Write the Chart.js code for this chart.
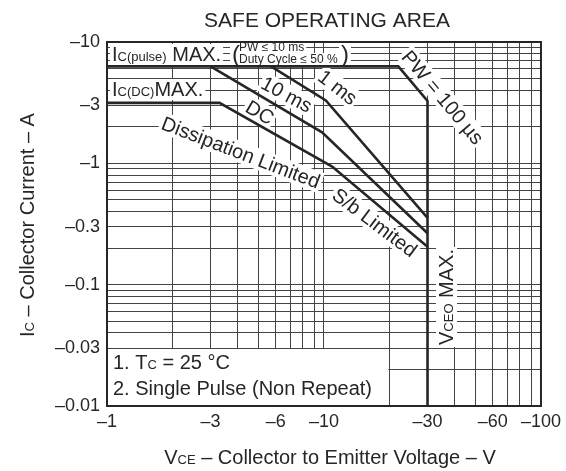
<!DOCTYPE html>
<html>
<head>
<meta charset="utf-8">
<script src="https://cdn.jsdelivr.net/npm/chart.js@4.4.1/dist/chart.umd.min.js"></script>
<style>
html,body{margin:0;padding:0;background:#fff;}
#wrap{width:566px;height:471px;}
</style>
</head>
<body>
<div id="wrap"><canvas id="c" width="566" height="471"></canvas></div>
<script>
// ---- data (VCE and IC magnitudes; the axes show them as negative values) ----
const xGridValues = [1,2,3,4,5,6,7,8,9,10,20,30,40,50,60,70,80,90,100];
const xLabelValues = [1,3,6,10,30,60,100];
const xLabelTexts = ['–1','–3','–6','–10','–30','–60','–100'];
const yGridValues = [0.01,0.02,0.03,0.04,0.05,0.06,0.07,0.08,0.09,0.1,0.2,0.3,0.4,0.5,0.6,0.7,0.8,0.9,1,2,3,4,5,6,7,8,9,10];
const yLabelValues = [0.01,0.03,0.1,0.3,1,3,10];
const yLabelTexts = ['–0.01','–0.03','–0.1','–0.3','–1','–3','–10'];

const pw100usV = [1, 22, 30, 30];
const pw100usI = [6.3, 6.3, 3.27, 0.01];
const pw1msV = [5.7, 10.2, 30];
const pw1msI = [6.3, 3.3, 0.355];
const pw10msV = [3, 9.8, 30];
const pw10msI = [6.3, 1.8, 0.265];
const dcV = [1, 3.3, 10.9, 30];
const dcI = [3.15, 3.15, 0.94, 0.205];

const seriesNames = ['PW = 100 µs', '1 ms', '10 ms', 'DC'];

// ---- helpers ----
const FONT = '"Liberation Sans", Arial, Helvetica, sans-serif';
const INK = '#262626';
function pts(xs, ys){ return xs.map((x,i)=>({x:x, y:ys[i]})); }
function labelFor(v, vals, texts){
  for (let i=0;i<vals.length;i++){ if (Math.abs(v-vals[i]) < vals[i]*1e-6) return texts[i]; }
  return '';
}
function partsWidth(ctx, parts){
  let w=0; for (const p of parts){ ctx.font = p[1]+'px '+FONT; w += ctx.measureText(p[0]).width; } return w;
}
function maxSize(parts){ return Math.max.apply(null, parts.map(p=>p[1])); }
function drawParts(ctx, parts, x0, base){
  let x = x0;
  ctx.textAlign='left'; ctx.textBaseline='alphabetic';
  for (const p of parts){ ctx.font = p[1]+'px '+FONT; ctx.fillText(p[0], x, base); x += ctx.measureText(p[0]).width; }
}

// annotation texts: [text, fontSize] runs; x,y = anchor (cap-centre), angle in degrees
const notes = [
  {parts:[['I',20],['C(pulse)',13],[' MAX.',20]], x:112, y:54, angle:0, align:'left', bg:true},
  {parts:[['I',20],['C(DC)',13],['MAX.',20]], x:112, y:89, angle:0, align:'left', bg:true},
  {parts:[['PW ≤ 10 ms',12]], x:239, y:47, angle:0, align:'left', bg:true},
  {parts:[['Duty Cycle ≤ 50 %',12]], x:239, y:59, angle:0, align:'left', bg:true},
  {parts:[['(',24]], x:232, y:53, angle:0, align:'left', bg:true},
  {parts:[[')',24]], x:341, y:53, angle:0, align:'left', bg:true},
  {parts:[['10 ms',20]], x:287, y:94, angle:28, align:'center', bg:true},
  {parts:[['1 ms',20]], x:338, y:87, angle:38, align:'center', bg:true},
  {parts:[['DC',20]], x:260, y:112, angle:30, align:'center', bg:true},
  {parts:[['Dissipation Limited',20]], x:241, y:152, angle:21, align:'center', bg:true},
  {parts:[['S/b Limited',20]], x:375, y:222, angle:37, align:'center', bg:true},
  {parts:[['PW = 100 µs',20]], x:443, y:97, angle:50, align:'center', bg:true},
  {parts:[['V',20],['CEO',13],[' MAX.',20]], x:446, y:297, angle:-90, align:'center', bg:true},
  {parts:[['1. T',20],['C',13],[' = 25 °C',20]], x:113, y:362, angle:0, align:'left', bg:false},
  {parts:[['2. Single Pulse (Non Repeat)',20]], x:113, y:388, angle:0, align:'left', bg:false},
  {parts:[['SAFE OPERATING AREA',21]], x:327, y:19, angle:0, align:'center', bg:false},
  {parts:[['V',20],['CE',13],[' – Collector to Emitter Voltage – V',20]], x:330, y:457, angle:0, align:'center', bg:false},
  {parts:[['I',20],['C',13],[' – Collector Current – A',20]], x:27, y:225, angle:-90, align:'center', bg:false}
];

function placeNote(ctx, n, fn){
  const w = partsWidth(ctx, n.parts);
  const s = maxSize(n.parts);
  ctx.save();
  ctx.translate(n.x, n.y);
  ctx.rotate(n.angle*Math.PI/180);
  const x0 = n.align==='center' ? -w/2 : 0;
  fn(w, s, x0);
  ctx.restore();
}

const annotatePlugin = {
  id:'annotate',
  beforeDraw(chart){
    const ctx = chart.ctx;
    ctx.save(); ctx.fillStyle='#fff'; ctx.fillRect(0,0,chart.width,chart.height); ctx.restore();
  },
  beforeDatasetsDraw(chart){
    const ctx = chart.ctx, xs = chart.scales.x, ys = chart.scales.y, a = chart.chartArea;
    ctx.save();
    ctx.fillStyle='#fff';
    // notes box clears the grid
    const bx = xs.getPixelForValue(20), by = ys.getPixelForValue(0.03);
    ctx.fillRect(a.left+1, by+1, bx-a.left-2, a.bottom-by-2);
    for (const n of notes){
      if (!n.bg) continue;
      placeNote(ctx, n, (w,s,x0)=>{ ctx.fillRect(x0-2, -0.5*s, w+4, 1.05*s); });
    }
    ctx.restore();
  },
  afterDatasetsDraw(chart){
    const ctx = chart.ctx, a = chart.chartArea;
    ctx.save();
    ctx.strokeStyle = INK; ctx.lineWidth = 2;
    ctx.strokeRect(a.left, a.top, a.right-a.left, a.bottom-a.top);
    ctx.fillStyle = INK;
    for (const n of notes){
      placeNote(ctx, n, (w,s,x0)=>{ drawParts(ctx, n.parts, x0, 0.36*s); });
    }
    ctx.restore();
  }
};

const lineStyle = {borderColor:INK, borderWidth:2.6, pointRadius:0, fill:false, tension:0, borderJoinStyle:'miter'};

new Chart(document.getElementById('c'), {
  type:'line',
  data:{
    datasets:[
      Object.assign({label:seriesNames[0], data:pts(pw100usV, pw100usI)}, lineStyle),
      Object.assign({label:seriesNames[1], data:pts(pw1msV, pw1msI)}, lineStyle),
      Object.assign({label:seriesNames[2], data:pts(pw10msV, pw10msI)}, lineStyle),
      Object.assign({label:seriesNames[3], data:pts(dcV, dcI)}, lineStyle)
    ]
  },
  options:{
    responsive:false,
    animation:false,
    devicePixelRatio:1,
    layout:{padding:{top:42, right:23, left:0, bottom:0}},
    plugins:{legend:{display:false}, tooltip:{enabled:false}, title:{display:false}},
    scales:{
      x:{
        type:'logarithmic', min:1, max:100,
        afterBuildTicks(scale){ scale.ticks = xGridValues.map(v=>({value:v})); },
        afterFit(scale){ scale.height = 65; },
        grid:{color:'#444', lineWidth:1, drawTicks:false},
        border:{display:false},
        ticks:{autoSkip:false, maxRotation:0, padding:5, color:INK,
          font:{family:FONT, size:18},
          callback(v){ return labelFor(v, xLabelValues, xLabelTexts); }}
      },
      y:{
        type:'logarithmic', min:0.01, max:10,
        afterBuildTicks(scale){ scale.ticks = yGridValues.map(v=>({value:v})); },
        afterFit(scale){ scale.width = 107; },
        grid:{color:'#444', lineWidth:1, drawTicks:false},
        border:{display:false},
        ticks:{autoSkip:false, padding:7, color:INK,
          font:{family:FONT, size:18},
          callback(v){ return labelFor(v, yLabelValues, yLabelTexts); }}
      }
    }
  },
  plugins:[annotatePlugin]
});
</script>
</body>
</html>
